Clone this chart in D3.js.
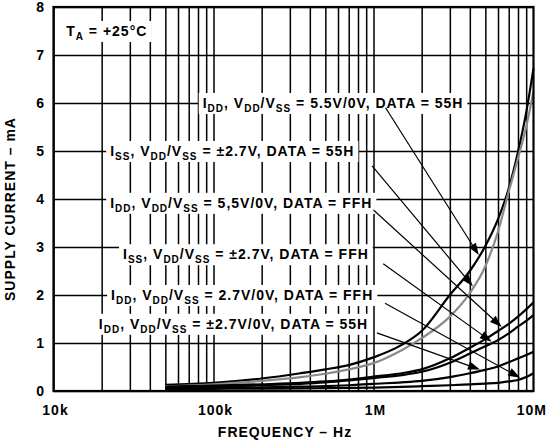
<!DOCTYPE html>
<html>
<head>
<meta charset="utf-8">
<script src="https://cdn.jsdelivr.net/npm/d3@7"></script>
<style>
  body { margin: 0; background: #fff; }
  text { font-family: "Liberation Sans", Arial, sans-serif; font-weight: bold; fill: #000; }
  .grid line { stroke: #000; stroke-width: 1.5; }
  .grid path { display: none; }
</style>
</head>
<body>
<svg id="chart"></svg>
<script>
// frequency points (Hz)
var freq = [5e4, 1e5, 2e5, 3.5e5, 5e5, 7e5, 1e6, 1.5e6, 2e6, 3e6, 4e6, 5e6, 6e6, 7e6, 8e6, 9e6, 1e7];

// supply current (mA) for each curve
var iddHi55 = [0.13, 0.17, 0.26, 0.37, 0.45, 0.54, 0.70, 0.96, 1.25, 2.00, 2.50, 3.02, 3.58, 4.22, 4.98, 5.80, 6.72];
var issSplit55 = [0.10, 0.14, 0.21, 0.29, 0.36, 0.45, 0.58, 0.85, 1.10, 1.55, 2.04, 2.60, 3.32, 4.15, 4.85, 5.50, 6.24];
var iddHiFF = [0.09, 0.11, 0.14, 0.17, 0.20, 0.24, 0.30, 0.37, 0.45, 0.68, 0.90, 1.08, 1.25, 1.40, 1.55, 1.70, 1.85];
var issSplitFF = [0.08, 0.09, 0.12, 0.15, 0.18, 0.22, 0.27, 0.33, 0.40, 0.59, 0.78, 0.93, 1.06, 1.20, 1.34, 1.46, 1.58];
var iddSplit55 = [0.06, 0.065, 0.075, 0.09, 0.10, 0.12, 0.15, 0.18, 0.21, 0.29, 0.37, 0.44, 0.51, 0.60, 0.68, 0.75, 0.82];
var iddLoFF = [0.04, 0.045, 0.05, 0.055, 0.06, 0.065, 0.07, 0.085, 0.10, 0.12, 0.14, 0.155, 0.17, 0.20, 0.23, 0.29, 0.37];

var seriesList = [iddHi55, issSplit55, iddHiFF, issSplitFF, iddSplit55, iddLoFF];
var seriesColor = ["#000", "#8a8a8a", "#000", "#000", "#000", "#000"];

// axis ticks
var yTicks = [0, 1, 2, 3, 4, 5, 6, 7, 8];
var xTicks = [1e4, 1e5, 1e6, 1e7];
var xTickText = ["10k", "100k", "1M", "10M"];

// curve labels ("_XX" = subscript)
var labelText = [
  "I_DD, V_DD/V_SS = 5.5V/0V, DATA = 55H",
  "I_SS, V_DD/V_SS = \u00b12.7V, DATA = 55H",
  "I_DD, V_DD/V_SS = 5,5V/0V, DATA = FFH",
  "I_SS, V_DD/V_SS = \u00b12.7V, DATA = FFH",
  "I_DD, V_DD/V_SS = 2.7V/0V, DATA = FFH",
  "I_DD, V_DD/V_SS = \u00b12.7V/0V, DATA = 55H"
];
var labelSeries = [0, 1, 2, 3, 5, 4];
// where each label sits, where its arrow leaves, and where it points (Hz / mA)
var labelFreq = [85.6e3, 22.6e3, 22.6e3, 27.2e3, 22.9e3, 19.2e3];
var labelCurrent = [6, 5, 3.92, 2.85, 2, 1.4];
var tailFreq = [1.19e6, 0.98e6, 1.0e6, 1.15e6, 1.18e6, 1.05e6];
var tailCurrent = [5.9, 4.69, 3.77, 2.65, 1.83, 1.21];
var tipFreq = [4.55e6, 4.18e6, 6.33e6, 5.48e6, 8.25e6, 4.63e6];

var W = 548, H = 440;
var margin = { top: 7, right: 14.5, bottom: 49, left: 53.5 };
var width = W - margin.left - margin.right;
var height = H - margin.top - margin.bottom;

var svg = d3.select("#chart").attr("width", W).attr("height", H);
var g = svg.append("g").attr("transform", "translate(" + margin.left + "," + margin.top + ")");

var x = d3.scaleLog().domain([1e4, 1e7]).range([0, width]);
var y = d3.scaleLinear().domain([0, 8]).range([height, 0]);

// grid lines
var vGrid = [];
[1e4, 1e5, 1e6].forEach(function(d) {
  for (var k = 1; k <= 9; k++) vGrid.push(d * k);
});
g.append("g").attr("class", "grid")
  .attr("transform", "translate(0," + height + ")")
  .call(d3.axisBottom(x).tickValues(vGrid).tickSize(-height).tickFormat(""));
g.append("g").attr("class", "grid")
  .call(d3.axisLeft(y).tickValues(yTicks).tickSize(-width).tickFormat(""));

// tick labels
var yAx = g.append("g")
  .call(d3.axisLeft(y).tickValues(yTicks).tickSize(0).tickPadding(8.5).tickFormat(d3.format("d")));
yAx.select(".domain").remove();
var xAx = g.append("g").attr("transform", "translate(0," + height + ")")
  .call(d3.axisBottom(x).tickValues(xTicks).tickSize(0).tickPadding(14)
    .tickFormat(function(d, i) { return xTickText[i]; }));
xAx.select(".domain").remove();
svg.selectAll(".tick text").attr("font-size", 14).attr("letter-spacing", 1)
  .style("font-family", "'Liberation Sans', Arial, sans-serif").style("font-weight", "bold");
xAx.selectAll(".tick text").attr("dx", 1.5);
xAx.selectAll(".tick text").filter(function(d) { return d === 1e7; })
  .attr("text-anchor", "end").attr("dx", 13);

// label layer: boxes first so they hide the grid
var boxLayer = g.append("g");
var curveLayer = g.append("g");
var arrowLayer = g.append("g");
var textLayer = g.append("g");

function writeRich(sel, str) {
  var parts = str.split(/_([A-Z]+)/);
  var sub = false;
  parts.forEach(function(p, i) {
    var t = sel.append("tspan").text(p);
    if (i % 2 === 1) {
      t.attr("font-size", 10).attr("dy", 4);
      sub = true;
    } else if (sub) {
      t.attr("dy", -4);
      sub = false;
    }
  });
}

function addLabel(str, fx, mA) {
  var t = textLayer.append("text")
    .attr("x", x(fx)).attr("y", y(mA) + 5)
    .attr("font-size", 14).attr("letter-spacing", 1);
  writeRich(t, str);
  var bb = t.node().getBBox();
  boxLayer.append("rect")
    .attr("x", bb.x - 4).attr("y", y(mA) - 10)
    .attr("width", bb.width + 8).attr("height", 21)
    .attr("fill", "#fff");
}

addLabel("T_A = +25\u00b0C", 12e3, 7.5);
labelText.forEach(function(s, i) { addLabel(s, labelFreq[i], labelCurrent[i]); });

// curves
var line = d3.line()
  .x(function(d) { return x(d[0]); })
  .y(function(d) { return y(d[1]); })
  .curve(d3.curveMonotoneX);

seriesList.forEach(function(vals, i) {
  curveLayer.append("path")
    .datum(freq.map(function(f, j) { return [f, vals[j]]; }))
    .attr("d", line)
    .attr("fill", "none")
    .attr("stroke", seriesColor[i])
    .attr("stroke-width", 2.2);
});

// arrows from labels to curves
function valueAt(vals, f) {
  var lf = Math.log10(f);
  for (var j = 0; j < freq.length - 1; j++) {
    var a = Math.log10(freq[j]), b = Math.log10(freq[j + 1]);
    if (lf >= a && lf <= b) return vals[j] + (vals[j + 1] - vals[j]) * (lf - a) / (b - a);
  }
  return vals[vals.length - 1];
}

labelText.forEach(function(s, i) {
  var x0 = x(tailFreq[i]), y0 = y(tailCurrent[i]);
  var x1 = x(tipFreq[i]), y1 = y(valueAt(seriesList[labelSeries[i]], tipFreq[i])) - 1.5;
  var dx = x1 - x0, dy = y1 - y0, len = Math.sqrt(dx * dx + dy * dy);
  var ux = dx / len, uy = dy / len;
  var hl = 12, hw = 4.2;
  arrowLayer.append("line")
    .attr("x1", x0).attr("y1", y0)
    .attr("x2", x1 - ux * hl * 0.8).attr("y2", y1 - uy * hl * 0.8)
    .attr("stroke", "#000").attr("stroke-width", 1.2);
  var bx = x1 - ux * hl, by = y1 - uy * hl;
  arrowLayer.append("path")
    .attr("d", "M" + x1 + "," + y1 +
      "L" + (bx - uy * hw) + "," + (by + ux * hw) +
      "L" + (bx + uy * hw) + "," + (by - ux * hw) + "Z")
    .attr("fill", "#000");
});

// frame
g.append("rect")
  .attr("width", width).attr("height", height)
  .attr("fill", "none").attr("stroke", "#000").attr("stroke-width", 2.2);

// axis titles
svg.append("text")
  .attr("x", 285).attr("y", 437)
  .attr("text-anchor", "middle").attr("font-size", 14).attr("letter-spacing", 1)
  .text("FREQUENCY \u2013 Hz");
svg.append("text")
  .attr("transform", "translate(15,209) rotate(-90)")
  .attr("text-anchor", "middle").attr("font-size", 14).attr("letter-spacing", 1)
  .text("SUPPLY CURRENT \u2013 mA");
</script>
</body>
</html>
